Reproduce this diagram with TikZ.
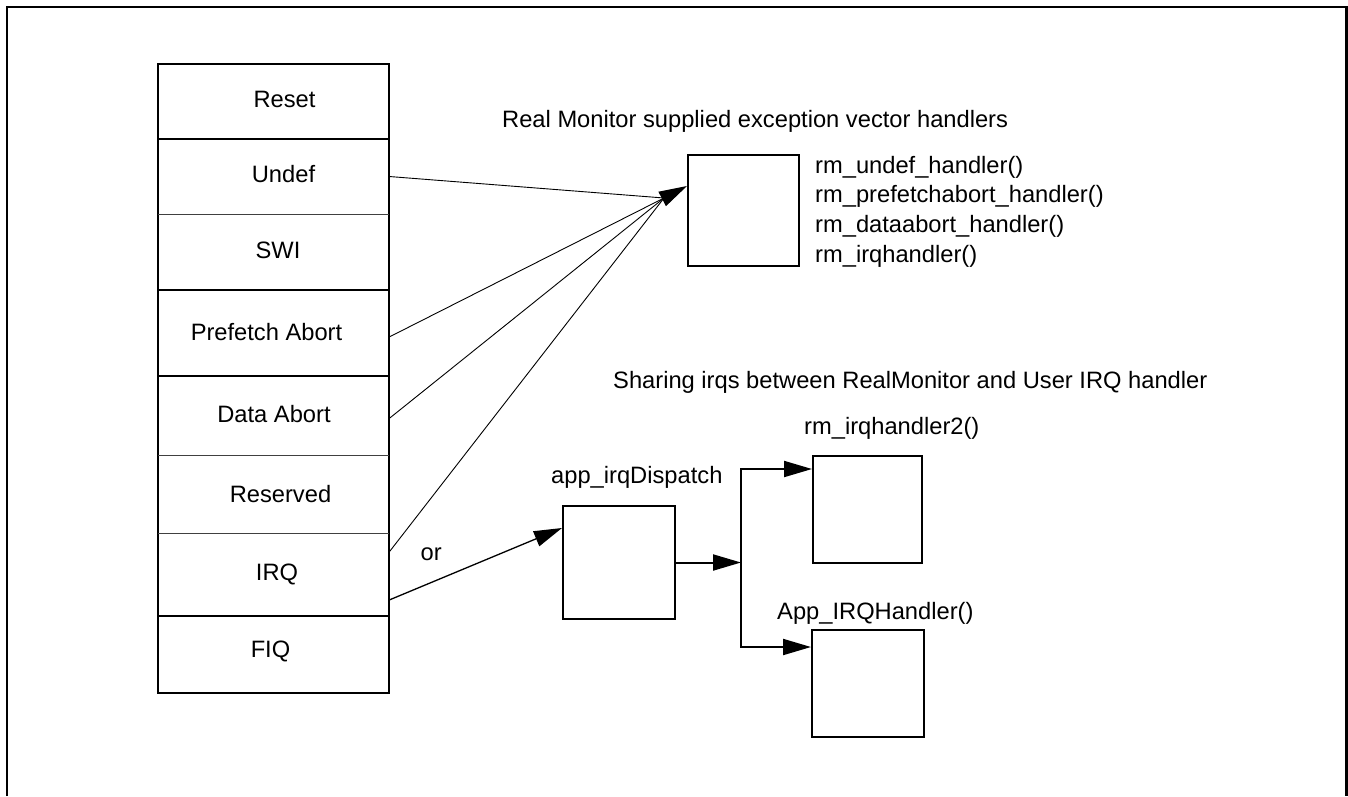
\documentclass[tikz,border=0pt]{standalone}
\usepackage{fontspec}
\setmainfont{Liberation Sans}
\usetikzlibrary{arrows.meta}
\begin{document}
\begin{tikzpicture}[x=1pt,y=-1pt,
  txt/.style={inner sep=0pt, font=\fontsize{23.7}{28}\selectfont},
  row/.style={minimum width=231pt, inner sep=0pt, draw=none},
  box/.style={draw, line width=2pt, inner sep=0pt},
  septhick/.style={line width=2pt},
  septhin/.style={line width=1pt, black!75},
  fan/.style={line width=0.9pt},
  tipline/.style={-{Triangle[length=28pt,width=16pt]}},
]
\useasboundingbox (0,0) rectangle (1348,796);
\draw[line width=2.7pt] (7,796) -- (7,7) -- (1346.5,7) -- (1346.5,796);

% vector table rows
\node[row, minimum height=75pt] (reset) at (273.5,101.5) {};
\node[row, minimum height=75pt] (undef) at (273.5,176.5) {};
\node[row, minimum height=76pt] (swi) at (273.5,252) {};
\node[row, minimum height=86pt] (prefetch) at (273.5,333) {};
\node[row, minimum height=79pt] (data) at (273.5,415.5) {};
\node[row, minimum height=78pt] (reserved) at (273.5,494) {};
\node[row, minimum height=83pt] (irq) at (273.5,574.5) {};
\node[row, minimum height=77pt] (fiq) at (273.5,654.5) {};

\draw[septhick] (reset.north west) rectangle (fiq.south east);
\draw[septhick] (reset.south west) -- (reset.south east);
\draw[septhin] (undef.south west) -- (undef.south east);
\draw[septhick] (swi.south west) -- (swi.south east);
\draw[septhick] (prefetch.south west) -- (prefetch.south east);
\draw[septhin] (data.south west) -- (data.south east);
\draw[septhin] (reserved.south west) -- (reserved.south east);
\draw[septhick] (irq.south west) -- (irq.south east);

\node[txt, anchor=base] (lreset) at (284.5,107) {Reset};
\node[txt, anchor=base] (lundef) at (283.5,182) {Undef};
\node[txt, anchor=base] (lswi) at (278,258) {SWI};
\node[txt, anchor=base] (lprefetch) at (266.5,340) {Prefetch Abort};
\node[txt, anchor=base] (ldata) at (274,422) {Data Abort};
\node[txt, anchor=base] (lreserved) at (280.5,502) {Reserved};
\node[txt, anchor=base] (lirq) at (277,580) {IRQ};
\node[txt, anchor=base] (lfiq) at (270.5,657) {FIQ};

% Real Monitor handlers
\node[txt, anchor=base west] (title1) at (502,127) {Real Monitor supplied exception vector handlers};
\node[box, minimum width=111pt, minimum height=111pt] (rmbox) at (743.5,210.5) {};
\node[txt, anchor=base west] (h1) at (815,173) {rm\_undef\_handler()};
\node[txt, anchor=base west] (h2) at (815,202.7) {rm\_prefetchabort\_handler()};
\node[txt, anchor=base west] (h3) at (815,232.4) {rm\_dataabort\_handler()};
\node[txt, anchor=base west] (h4) at (815,262.1) {rm\_irqhandler()};

\coordinate (conv) at (664,198);
\draw[fan] (undef.east) -- (conv);
\draw[fan] ([yshift=-4pt]prefetch.east) -- (conv);
\draw[fan] ([yshift=-3pt]data.east) -- (conv);
\draw[fan] ([yshift=22.5pt]irq.east) -- (conv);
\draw[fan, tipline] (conv) -- ([yshift=24.5pt]rmbox.west);

% sharing irqs
\node[txt, anchor=base west] (title2) at (613,388) {Sharing irqs between RealMonitor and User IRQ handler};
\node[txt, anchor=base west] (lor) at (420.5,560) {or};
\node[box, minimum width=112pt, minimum height=113pt] (disp) at (619,562.5) {};
\node[txt, anchor=base west] (ldisp) at (551,483) {app\_irqDispatch};
\node[box, minimum width=109pt, minimum height=107pt] (rm2) at (867.5,509.5) {};
\node[txt, anchor=base west] (lrm2) at (804,434) {rm\_irqhandler2()};
\node[box, minimum width=112pt, minimum height=107pt] (app) at (868,683.5) {};
\node[txt, anchor=base west] (lapp) at (777,619) {App\_IRQHandler()};

\draw[line width=1.3pt, tipline] ([yshift=-25.5pt]irq.east) -- ([yshift=34.5pt]disp.west);
\coordinate (split) at (741,562.5);
\draw[line width=2pt, tipline] (disp.east) -- (split);
\draw[line width=2pt, tipline] (split) |- ([yshift=40.5pt]rm2.west);
\draw[line width=2pt, tipline] (split) |- ([yshift=36.5pt]app.west);
\end{tikzpicture}
\end{document}
